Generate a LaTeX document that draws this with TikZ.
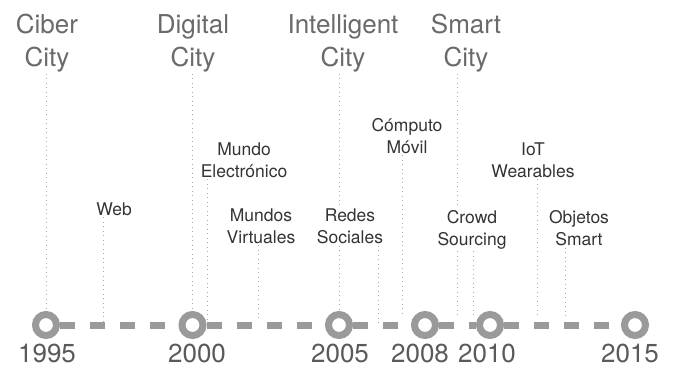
\documentclass[tikz,border=0pt]{standalone}
\usepackage{fontspec}
\setmainfont{TeX Gyre Heros}
\definecolor{trackgray}{HTML}{9A9A9A}
\definecolor{guidegray}{HTML}{A8A8A8}
\definecolor{eragray}{HTML}{6A6A6A}
\definecolor{yeargray}{HTML}{5A5A5A}
\definecolor{eventgray}{HTML}{333333}
\usetikzlibrary{positioning}

\tikzset{
    yeardot/.style = {circle, draw=trackgray, line width=7pt, minimum size=21pt,
                      inner sep=0pt, outer sep=3.5pt},
    track/.style = {draw=trackgray, line width=7pt, dash pattern=on 15pt off 15pt},
    guide/.style = {draw=guidegray, line width=0.9pt, dash pattern=on 0.9pt off 3.6pt},
    era/.style = {font=\fontsize{26}{33}\selectfont, text=eragray, align=center,
                  anchor=base, inner sep=2pt},
    event/.style = {font=\fontsize{17.5}{22}\selectfont, text=eventgray, align=center,
                    anchor=base, inner sep=2pt},
    yearlabel/.style = {font=\fontsize{26}{30}\selectfont, text=yeargray,
                        anchor=base, inner sep=0pt}
}

\begin{document}
\begin{tikzpicture}[x=1pt, y=-1pt]
        \useasboundingbox (0,0) rectangle (673,367);
        % timeline
        \node[yeardot] (c1995) at (46, 325) {};
        \node[yeardot] (c2000) at (192.5, 325) {};
        \node[yeardot] (c2005) at (339, 325) {};
        \node[yeardot] (c2008) at (425, 325) {};
        \node[yeardot] (c2010) at (490, 325) {};
        \node[yeardot] (c2015) at (635, 325) {};
        \draw[track] (c1995) -- (c2000);
        \draw[track] (c2000) -- (c2005);
        \draw[track] (c2005) -- (c2008);
        \draw[track] (c2008) -- (c2010);
        \draw[track] (c2010) -- (c2015);
        \node[yearlabel] (y1995) at (47, 362) {1995};
        \node[yearlabel] (y2000) at (197, 362) {2000};
        \node[yearlabel] (y2005) at (340, 362) {2005};
        \node[yearlabel] (y2008) at (420, 362) {2008};
        \node[yearlabel] (y2010) at (487, 362) {2010};
        \node[yearlabel] (y2015) at (630, 362) {2015};
        % city eras (base = last line)
        \node[era] (ciber) at (47, 66) {Ciber\\City};
        \node[era] (digital) at (193, 66) {Digital\\City};
        \node[era] (intel) at (343, 66) {Intelligent\\City};
        \node[era] (smart) at (466, 66) {Smart\\City};
        % events
        \node[event] (web) at (114, 215) {Web};
        \node[event] (mundo) at (244, 177) {Mundo\\Electrónico};
        \node[event] (mundos) at (261, 243) {Mundos\\Virtuales};
        \node[event] (redes) at (350, 243) {Redes\\Sociales};
        \node[event] (computo) at (407, 153) {Cómputo\\Móvil};
        \node[event] (crowd) at (472, 245) {Crowd\\Sourcing};
        \node[event] (iot) at (533, 177) {IoT\\Wearables};
        \node[event] (objetos) at (579, 245) {Objetos\\Smart};
        % guide ends on the timeline
        \coordinate (gweb) at (103, 321);
        \coordinate (gmundo) at (207, 319);
        \coordinate (gmundos) at (258, 320);
        \coordinate (gredes) at (378, 325);
        \coordinate (gcomputo) at (402, 316);
        \coordinate (gsmart) at (457, 317);
        \coordinate (gcrowd) at (473, 315);
        \coordinate (giot) at (537, 316);
        \coordinate (gobjetos) at (565, 318);
        % dotted guides
        \draw[guide] (ciber.south -| c1995) -- (c1995.north);
        \draw[guide] (digital.south -| c2000) -- (c2000.north);
        \draw[guide] (intel.south -| c2005) -- (redes.north -| c2005);
        \draw[guide] (redes.south -| c2005) -- (c2005.north);
        \draw[guide] (smart.south -| gsmart) -- (crowd.north -| gsmart);
        \draw[guide] (crowd.south -| gsmart) -- (gsmart);
        \draw[guide] (web.south -| gweb) -- (gweb);
        \draw[guide] (mundo.south -| gmundo) -- (gmundo);
        \draw[guide] (mundos.south -| gmundos) -- (gmundos);
        \draw[guide] (redes.south -| gredes) -- (gredes);
        \draw[guide] (computo.south -| gcomputo) -- (gcomputo);
        \draw[guide] (crowd.south -| gcrowd) -- (gcrowd);
        \draw[guide] (iot.south -| giot) -- (giot);
        \draw[guide] (objetos.south -| gobjetos) -- (gobjetos);
\end{tikzpicture}
\end{document}
